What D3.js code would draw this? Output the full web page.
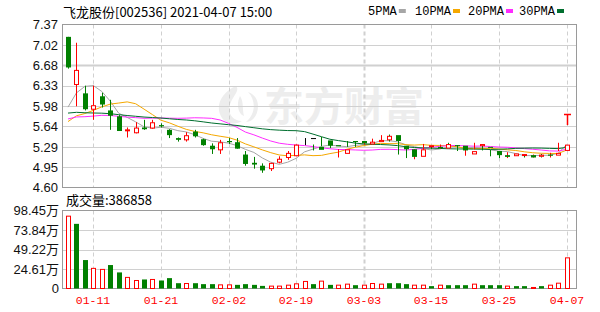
<!DOCTYPE html>
<html>
<head>
<meta charset="utf-8">
<script src="https://cdn.jsdelivr.net/npm/d3@7"></script>
<style>
body { margin: 0; background: #fff; }
svg { display: block; }
</style>
</head>
<body>
<div id="chart"></div>
<script>
// Trading days shown (2021-01-06 .. 2021-04-07)
var dates = ["01-06","01-07","01-08","01-11","01-12","01-13","01-14","01-15","01-18","01-19",
  "01-20","01-21","01-22","01-25","01-26","01-27","01-28","01-29","02-01","02-02",
  "02-03","02-04","02-05","02-08","02-09","02-10","02-18","02-19","02-22","02-23",
  "02-24","02-25","02-26","03-01","03-02","03-03","03-04","03-05","03-08","03-09",
  "03-10","03-11","03-12","03-15","03-16","03-17","03-18","03-19","03-22","03-23",
  "03-24","03-25","03-26","03-29","03-30","03-31","04-01","04-02","04-06","04-07"];

var opens  = [7.16,6.35,6.20,5.93,6.15,5.91,5.81,5.57,5.53,5.62, 5.61,5.66,5.58,5.44,5.41,5.55,5.42,5.31,5.24,5.39,
  5.37,5.16,5.02,4.97,4.92,5.03,5.11,5.14,5.44,5.29, 5.40,5.32,5.18,5.39,5.39,5.34,5.38,5.41,5.49,5.31,
  5.25,5.13,5.30,5.29,5.27,5.32,5.31,5.17,5.31,5.29, 5.22,5.15,5.14,5.15,5.15,5.13,5.16,5.15,5.23,5.85];
var highs  = [7.16,7.06,6.33,6.33,6.21,6.09,5.83,5.62,5.71,5.75, 5.75,5.69,5.59,5.45,5.54,5.58,5.43,5.35,5.41,5.44,
  5.44,5.22,5.12,5.01,5.02,5.13,5.22,5.33,5.44,5.33, 5.46,5.33,5.25,5.39,5.39,5.38,5.43,5.49,5.50,5.40,
  5.29,5.25,5.34,5.30,5.33,5.36,5.32,5.24,5.36,5.32, 5.24,5.17,5.20,5.17,5.16,5.16,5.17,5.19,5.36,5.85];
var lows   = [6.62,5.98,5.91,5.75,5.96,5.58,5.56,5.45,5.52,5.58, 5.60,5.62,5.44,5.38,5.38,5.45,5.31,5.17,5.17,5.34,
  5.26,4.97,4.92,4.85,4.88,5.01,5.07,5.13,5.32,5.23, 5.30,5.27,5.11,5.29,5.29,5.33,5.34,5.40,5.38,5.16,
  5.10,5.08,5.19,5.25,5.26,5.29,5.22,5.14,5.25,5.23, 5.13,5.10,5.10,5.14,5.11,5.11,5.11,5.11,5.22,5.66];
var closes = [6.64,6.59,5.93,5.99,6.01,5.82,5.56,5.58,5.61,5.59, 5.70,5.64,5.49,5.41,5.48,5.47,5.32,5.25,5.36,5.37,
  5.26,5.00,4.99,4.89,5.01,5.08,5.18,5.32,5.44,5.24, 5.31,5.30,5.24,5.38,5.35,5.37,5.40,5.47,5.39,5.25,
  5.12,5.24,5.31,5.27,5.33,5.31,5.23,5.21,5.33,5.28, 5.15,5.12,5.17,5.16,5.11,5.15,5.14,5.18,5.32,5.85];

// closes of the 29 sessions before the window (estimated from where the MA lines start)
var priorCloses = [6.20,6.15,6.12,6.10, 6.08,6.05,6.02,6.00,5.98, 5.95,5.90,5.85,5.78,5.74,
  5.88,5.86,5.83,5.80,5.80, 5.65,5.60,5.55,5.45,5.42,5.35, 5.38,5.38,5.92,6.51];

var volumes = [913000,816000,359000,254000,241000,296000,203000,140000,101000,114000,
  114000,101000,131000,67000,63000,67000,55000,55000,46000,46000,
  46000,55000,46000,33000,30000,30000,42000,59000,89000,55000,
  93000,46000,42000,55000,42000,42000,63000,55000,67000,67000,
  55000,42000,42000,30000,42000,42000,42000,42000,55000,42000,
  42000,42000,30000,30000,30000,13000,30000,42000,67000,386858];
// 1 = up on the day (red hollow bar), 0 = down (green bar)
var volUp = [1,0,0,1,1,0,0,1,1,0, 1,0,0,0,1,0,0,0,1,1, 0,0,0,0,1,1,1,1,1,0,
  1,0,1,1,0,1,1,1,0,0, 0,1,1,0,1,0,0,0,1,0, 0,0,1,0,0,1,0,1,1,1];

var priceTicks = [4.60,4.95,5.29,5.64,5.98,6.33,6.68,7.02,7.37];
var volTicks = [0,246125,492250,738375,984500];
var volTickLabels = ["0","24.61万","49.22万","73.84万","98.45万"];
var xTickLabels = ["01-11","01-21","02-02","02-19","03-03","03-15","03-25","04-07"];

var maPeriods = [5,10,20,30];
var maNames = ["5PMA","10PMA","20PMA","30PMA"];
var maColors = ["#a6a6a6","#f5a800","#ff2cff","#006e2e"];

var title = "飞龙股份[002536] 2021-04-07 15:00";
var lastVolume = "成交量:386858";

// Layout
var width = 600, height = 312;
var left = 62.5, right = 576.5;
var priceTop = 24.5, priceBottom = 187.5;
var volTop = 210.5, volBottom = 288.5;
var RED = "#ff0000", GREEN = "#008000", GRID = "#d0d0d0", BORDER = "#9a9a9a";

var svg = d3.select("#chart")
  .append("svg")
  .attr("width", width)
  .attr("height", height);

var x = d3.scalePoint()
  .domain(dates)
  .range([68, 566.5]);

var y = d3.scaleLinear()
  .domain([4.60, 7.37])
  .range([priceBottom, priceTop]);

var yv = d3.scaleLinear()
  .domain([0, 984500])
  .range([volBottom, volTop]);

function cx(d) { return Math.round(x(d)); }

// watermark
var wm = svg.append("g").attr("fill", "#ededed");
wm.append("path")
  .attr("d", "M236,86 C222,92 214,106 222,118 C226,124 236,125 242,121 C232,121 226,112 231,102 C234,95 240,90 236,86 Z M248,92 C256,100 256,114 246,122 C252,122 258,116 258,106 C258,99 254,94 248,92 Z M240,96 C236,104 238,114 244,116 C242,108 244,102 240,96 Z");
wm.append("text")
  .attr("x", 264)
  .attr("y", 121)
  .attr("font-family", "Noto Sans CJK SC")
  .attr("font-weight", 700)
  .attr("font-size", 40)
  .text("东方财富");

// price grid
svg.append("g").selectAll("line")
  .data(priceTicks.slice(1, -1))
  .enter().append("line")
  .attr("x1", left).attr("x2", right)
  .attr("y1", function(d) { return Math.round(y(d)) + 0.5; })
  .attr("y2", function(d) { return Math.round(y(d)) + 0.5; })
  .attr("stroke", GRID)
  .attr("stroke-width", function(d) { return d === 6.68 ? 2 : 1; });

// volume grid
svg.append("g").selectAll("line")
  .data(volTicks.slice(1, -1))
  .enter().append("line")
  .attr("x1", left).attr("x2", right)
  .attr("y1", function(d) { return Math.round(yv(d)) + 0.5; })
  .attr("y2", function(d) { return Math.round(yv(d)) + 0.5; })
  .attr("stroke", GRID);

// dashed date lines, both panels
[[priceTop, priceBottom], [volTop, volBottom]].forEach(function(p) {
  svg.append("g").selectAll("line")
    .data(xTickLabels)
    .enter().append("line")
    .attr("x1", function(d) { return cx(d) + 0.5; })
    .attr("x2", function(d) { return cx(d) + 0.5; })
    .attr("y1", p[0]).attr("y2", p[1])
    .attr("stroke", GRID)
    .attr("stroke-width", function(d) { return d === "03-03" ? 2 : 1; })
    .attr("stroke-dasharray", "4,3");
});

// panel borders
svg.append("rect")
  .attr("x", left).attr("y", priceTop)
  .attr("width", right - left).attr("height", priceBottom - priceTop)
  .attr("fill", "none").attr("stroke", BORDER);
svg.append("rect")
  .attr("x", left).attr("y", volTop)
  .attr("width", right - left).attr("height", volBottom - volTop)
  .attr("fill", "none").attr("stroke", BORDER);

// y labels
svg.append("g").selectAll("text")
  .data(priceTicks)
  .enter().append("text")
  .attr("x", 58)
  .attr("y", function(d) { return y(d); })
  .attr("dy", "0.36em")
  .attr("text-anchor", "end")
  .attr("font-family", "Liberation Sans, Arial, sans-serif")
  .attr("font-size", 13)
  .attr("fill", "#111")
  .text(function(d) { return d.toFixed(2); });

svg.append("g").selectAll("text")
  .data(volTicks)
  .enter().append("text")
  .attr("x", 59)
  .attr("y", function(d) { return yv(d); })
  .attr("dy", "0.36em")
  .attr("text-anchor", "end")
  .attr("font-family", "Liberation Sans, 'Noto Sans CJK SC', sans-serif")
  .attr("font-size", 13)
  .attr("fill", "#111")
  .text(function(d, i) { return volTickLabels[i]; });

// x labels
svg.append("g").selectAll("text")
  .data(xTickLabels)
  .enter().append("text")
  .attr("x", function(d) { return cx(d); })
  .attr("y", 304)
  .attr("text-anchor", "middle")
  .attr("font-family", "Liberation Mono, monospace")
  .attr("font-size", 11.5)
  .attr("fill", RED)
  .text(function(d) { return d; });

// moving averages
var allCloses = priorCloses.concat(closes);
var offset = priorCloses.length;
var ma = maPeriods.map(function(n) {
  return dates.map(function(d, i) {
    var k = offset + i;
    return d3.mean(allCloses.slice(k - n + 1, k + 1));
  });
});

var line = d3.line()
  .x(function(v, i) { return x(dates[i]); })
  .y(function(v) { return y(v); });

svg.append("g").selectAll("path")
  .data(ma)
  .enter().append("path")
  .attr("d", line)
  .attr("fill", "none")
  .attr("stroke", function(d, i) { return maColors[i]; })
  .attr("stroke-width", 1);

// candles
var candles = svg.append("g").selectAll("g")
  .data(dates)
  .enter().append("g");

function candleColor(i) {
  if (closes[i] > opens[i]) return RED;
  if (closes[i] < opens[i]) return GREEN;
  return "#000";
}

candles.append("line")
  .attr("x1", function(d) { return cx(d) + 0.5; })
  .attr("x2", function(d) { return cx(d) + 0.5; })
  .attr("y1", function(d, i) { return y(highs[i]); })
  .attr("y2", function(d, i) { return y(lows[i]); })
  .attr("stroke", function(d, i) { return candleColor(i); })
  .attr("stroke-width", 1);

// bodies (flat sessions keep only the wick, except a limit-up "T")
candles.filter(function(d, i) { return opens[i] !== closes[i] || highs[i] === closes[i] && lows[i] < closes[i] && i === dates.length - 1; })
  .append("rect")
  .attr("x", function(d, i) { return closes[i] > opens[i] ? cx(d) - 2 + 0.5 : cx(d) - 2; })
  .attr("width", function(d, i) { return closes[i] > opens[i] ? 4 : 5; })
  .attr("y", function(d, i) { return y(Math.max(opens[i], closes[i])); })
  .attr("height", function(d, i) {
    return Math.max(1, Math.abs(y(opens[i]) - y(closes[i])));
  })
  .attr("fill", function(d, i) { return closes[i] > opens[i] ? "#fff" : candleColor(i); })
  .attr("stroke", function(d, i) { return closes[i] > opens[i] ? RED : "none"; });

// last session: limit-up T drawn in red
candles.filter(function(d, i) { return i === dates.length - 1; })
  .selectAll("line").attr("stroke", RED).attr("stroke-width", 1.5);
candles.filter(function(d, i) { return i === dates.length - 1; })
  .append("line")
  .attr("x1", function(d) { return cx(d) - 3; })
  .attr("x2", function(d) { return cx(d) + 4; })
  .attr("y1", function(d, i) { return Math.round(y(closes[dates.length - 1])) + 0.5; })
  .attr("y2", function(d, i) { return Math.round(y(closes[dates.length - 1])) + 0.5; })
  .attr("stroke", RED)
  .attr("stroke-width", 1.5);

// volume bars
svg.append("g").selectAll("rect")
  .data(dates)
  .enter().append("rect")
  .attr("x", function(d, i) { return volUp[i] ? cx(d) - 2 + 0.5 : cx(d) - 2; })
  .attr("width", function(d, i) { return volUp[i] ? 4 : 5; })
  .attr("y", function(d, i) { return yv(volumes[i]); })
  .attr("height", function(d, i) { return volBottom - yv(volumes[i]); })
  .attr("fill", function(d, i) { return volUp[i] ? "#fff" : GREEN; })
  .attr("stroke", function(d, i) { return volUp[i] ? RED : "none"; });

// title, legend, volume caption
svg.append("text")
  .attr("x", 63).attr("y", 17)
  .attr("font-family", "'Noto Sans CJK SC', sans-serif")
  .attr("font-size", 13)
  .attr("fill", "#000")
  .text(title);

var legendX = [368, 415, 468, 519];
var legend = svg.append("g").selectAll("g")
  .data(maNames)
  .enter().append("g")
  .attr("transform", function(d, i) { return "translate(" + legendX[i] + ",0)"; });
legend.append("text")
  .attr("y", 15)
  .attr("font-family", "Liberation Mono, monospace")
  .attr("font-size", 12)
  .attr("fill", "#000")
  .text(function(d) { return d; });
legend.append("rect")
  .attr("x", function(d) { return d.length * 7.2 + 2; })
  .attr("y", 9)
  .attr("width", 7).attr("height", 4)
  .attr("fill", function(d, i) { return maColors[i]; });

svg.append("text")
  .attr("x", 66).attr("y", 205)
  .attr("font-family", "'Noto Sans CJK SC', sans-serif")
  .attr("font-size", 13)
  .attr("fill", "#000")
  .text(lastVolume);
</script>
</body>
</html>
